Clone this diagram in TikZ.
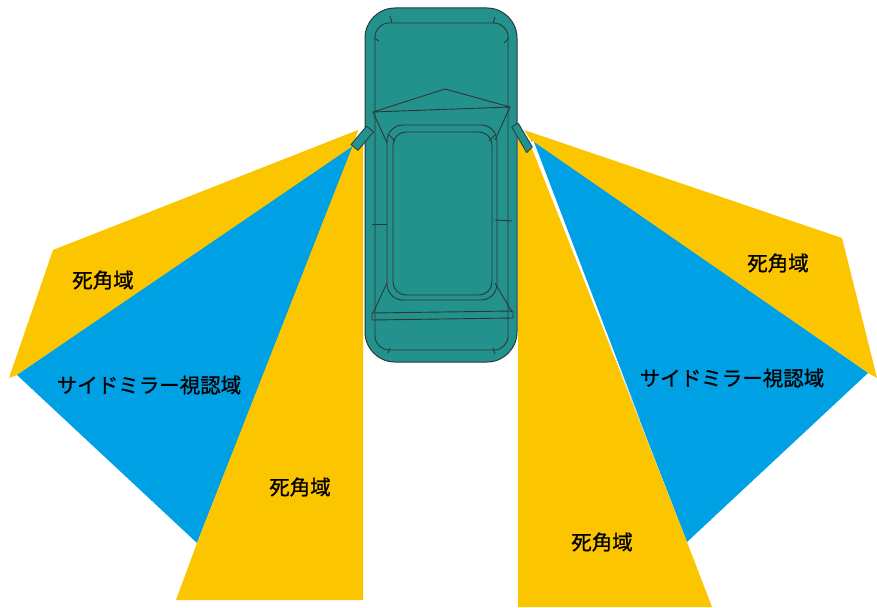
\documentclass[tikz,border=0pt]{standalone}
\usepackage{fontspec}
\newfontfamily\jp[FakeBold=0.9]{Noto Sans CJK JP}
\definecolor{zoneyellow}{RGB}{251,198,0}
\definecolor{zoneblue}{RGB}{0,161,228}
\definecolor{cargreen}{RGB}{35,146,141}
\definecolor{carline}{RGB}{45,55,55}
\begin{document}
\begin{tikzpicture}[x=1pt,y=-1pt,
  dead/.style={fill=zoneyellow},
  view/.style={fill=zoneblue},
  body/.style={draw=carline,line width=1pt,fill=cargreen,line join=round},
  trim/.style={draw=carline,line width=0.9pt,line join=round},
  zonelabel/.style={font=\jp\fontsize{20.5}{20.5}\selectfont,text=black,inner sep=0pt}]
\useasboundingbox (0,0) rectangle (877,607);

% ---- left side zones ----
\fill[dead] (358,130) -- (53,250) -- (9,378) -- (17,375) -- (352,150) -- cycle;
\fill[view] (353,146) -- (17,375) -- (197,543) -- (352,150) -- cycle;
\fill[dead] (355,140) -- (197,543) -- (176,600) -- (363,600) -- (363,132) -- cycle;

% ---- right side zones ----
\fill[dead] (524,130) -- (842,238) -- (877,378) -- (868,373) -- (532,142) -- cycle;
\fill[view] (531,140) -- (868,373) -- (687,542) -- cycle;
\fill[dead] (518,132) -- (529,140) -- (687,542) -- (712,607) -- (518,607) -- cycle;
% thin white seam between the rear dead zone and the mirror view
\fill[white] (529.5,142) -- (533.5,141) -- (640,420) -- cycle;

% ---- car body ----
\draw[body,rounded corners=30pt] (365,8) rectangle (517,362);
\draw[trim,rounded corners=14pt] (375,23) rectangle (508,350);
% corner marks on the body trim
\draw[trim] (390,16) -- (392,23);
\draw[trim] (495,17) -- (493,23);
\draw[trim] (374,38) -- (379,41);
\draw[trim] (509,38) -- (504,43);
\draw[trim] (388,353) -- (390,348);
\draw[trim] (495,354) -- (493,348);
% windshield
\draw[trim] (373,112) -- (445,89) -- (510,107) -- cycle;
\draw[trim] (373,112) -- (387,143);
\draw[trim] (510,107) -- (495,140);
% roof
\draw[trim,rounded corners=16pt] (387,125) rectangle (497,300);
\draw[trim,rounded corners=13pt] (393,132) rectangle (492,295);
\draw[trim] (389,135) -- (395,141);
\draw[trim] (495,135) -- (489,141);
% rear window and bumper bar
\draw[trim] (387,283) -- (373,313);
\draw[trim] (495,283) -- (512,312);
\draw[trim] (372,313) -- (513,311) -- (513,318) -- (372,320) -- cycle;
% door marks
\draw[trim] (372,224) -- (387,224);
\draw[trim] (495,220) -- (512,221);

% ---- side mirrors ----
\draw[body,line width=0.8pt] (351,144.6) -- (358,150.4) -- (373.5,131.9) -- (366.5,126.1) -- cycle;
\draw[body,line width=0.8pt] (511.7,126.7) -- (518.3,123.3) -- (532.3,147) -- (526.7,152.7) -- cycle;

% ---- labels ----
\node[zonelabel] (ul) at (103,280) {死角域};
\node[zonelabel] (ml) at (149,385) {サイドミラー視認域};
\node[zonelabel] (ll) at (300,487) {死角域};
\node[zonelabel] (ur) at (778,263) {死角域};
\node[zonelabel] (mr) at (732,378) {サイドミラー視認域};
\node[zonelabel] (lr) at (602,542) {死角域};
\end{tikzpicture}
\end{document}
